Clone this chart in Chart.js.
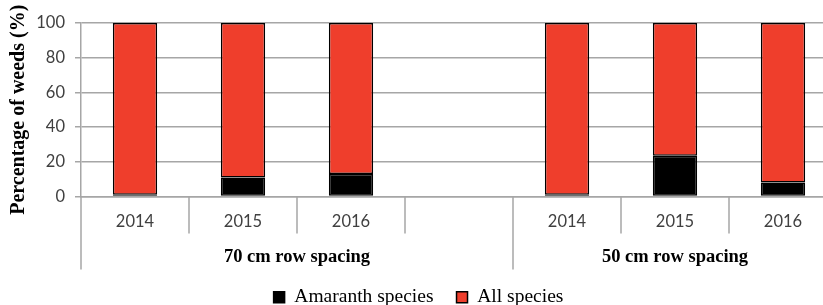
<!DOCTYPE html>
<html>
<head>
<meta charset="utf-8">
<script src="https://cdn.jsdelivr.net/npm/chart.js@4.4.1/dist/chart.umd.min.js"></script>
<style>
  html, body { margin: 0; padding: 0; background: #fff; overflow: hidden; }
  #wrap { width: 840px; height: 305px; overflow: hidden; }
</style>
</head>
<body>
<div id="wrap"><canvas id="WeedChart" width="840" height="317"></canvas></div>
<script>
// ---------------- DATA -------------------
const Years = ['2014', '2015', '2016', '', '2014', '2015', '2016']
const AmaranthSpecies = [1, 11, 13, null, 1, 23.5, 8]
const AllSpecies = [99, 89, 87, null, 99, 76.5, 92]
const Groups = ['70 cm row spacing', '50 cm row spacing']
const GroupStart = [0, 4]
const GroupEnd = [3, 6]
const YTicks = [0, 20, 40, 60, 80, 100]

// ---------------- GROUP AXIS PLUGIN -------------------
const GroupAxis = {
    id: 'groupAxis',
    afterDraw(chart) {
        const ctx = chart.ctx
        const x = chart.scales.x
        const bottom = chart.chartArea.bottom
        const half = (x.getPixelForValue(1) - x.getPixelForValue(0)) / 2
        ctx.save()
        ctx.strokeStyle = '#a6a6a6'
        ctx.lineWidth = 1.5
        // separators between years, longer ones between groups
        for (let i = 0; i <= Years.length; i++) {
            const px = x.getPixelForValue(0) - half + i * half * 2
            const long = GroupStart.includes(i) || i == Years.length
            ctx.beginPath()
            ctx.moveTo(px, bottom)
            ctx.lineTo(px, bottom + (long ? 73 : 37))
            ctx.stroke()
        }
        // group labels
        ctx.fillStyle = '#000'
        ctx.font = 'bold 18.5px "Liberation Serif"'
        ctx.textAlign = 'center'
        ctx.textBaseline = 'middle'
        Groups.forEach((g, i) => {
            const left = x.getPixelForValue(GroupStart[i]) - half
            const right = x.getPixelForValue(GroupEnd[i]) + half
            ctx.fillText(g, (left + right) / 2, bottom + 61)
        })
        ctx.restore()
    }
}

// ---------------- CHART -------------------
new Chart(document.getElementById('WeedChart').getContext('2d'), {
    type: 'bar',
    data: {
        labels: Years,
        datasets: [{
            label: 'Amaranth species',
            data: AmaranthSpecies,
            backgroundColor: '#000000',
            borderColor: '#000000',
            borderWidth: 1.5,
            borderSkipped: false
        }, {
            label: 'All species',
            data: AllSpecies,
            backgroundColor: '#ef3e2c',
            borderColor: '#000000',
            borderWidth: 1.5,
            borderSkipped: false
        }]
    },
    options: {
        responsive: false,
        animation: false,
        layout: {padding: {top: 23, right: 3, left: 0, bottom: 0}},
        datasets: {bar: {barPercentage: 0.41, categoryPercentage: 1}},
        plugins: {
            legend: {
                position: 'bottom',
                labels: {
                    color: '#000',
                    boxWidth: 11,
                    boxHeight: 11,
                    padding: 23,
                    font: {family: 'Liberation Serif', size: 19.5}
                }
            },
            tooltip: {enabled: false}
        },
        scales: {
            x: {
                stacked: true,
                grid: {drawOnChartArea: false, drawTicks: false},
                border: {display: true, color: '#a6a6a6', width: 1.5},
                ticks: {
                    color: '#404040',
                    padding: 15,
                    font: {family: 'Lato', size: 16.5}
                },
                afterFit: scale => { scale.height = 68 }
            },
            y: {
                stacked: true,
                min: 0,
                max: 100,
                afterBuildTicks: scale => { scale.ticks = YTicks.map(v => ({value: v})) },
                grid: {color: '#a6a6a6', lineWidth: 1.5, tickLength: 6},
                border: {display: true, color: '#a6a6a6', width: 1.5},
                ticks: {
                    color: '#404040',
                    padding: 10,
                    font: {family: 'Lato', size: 16.5}
                },
                title: {
                    display: true,
                    text: 'Percentage of weeds (%)',
                    color: '#000',
                    padding: {top: 7, bottom: 0},
                    font: {family: 'Liberation Serif', size: 20, weight: 'bold'}
                },
                afterFit: scale => { scale.width = 81 }
            }
        }
    },
    plugins: [GroupAxis]
})
</script>
</body>
</html>
